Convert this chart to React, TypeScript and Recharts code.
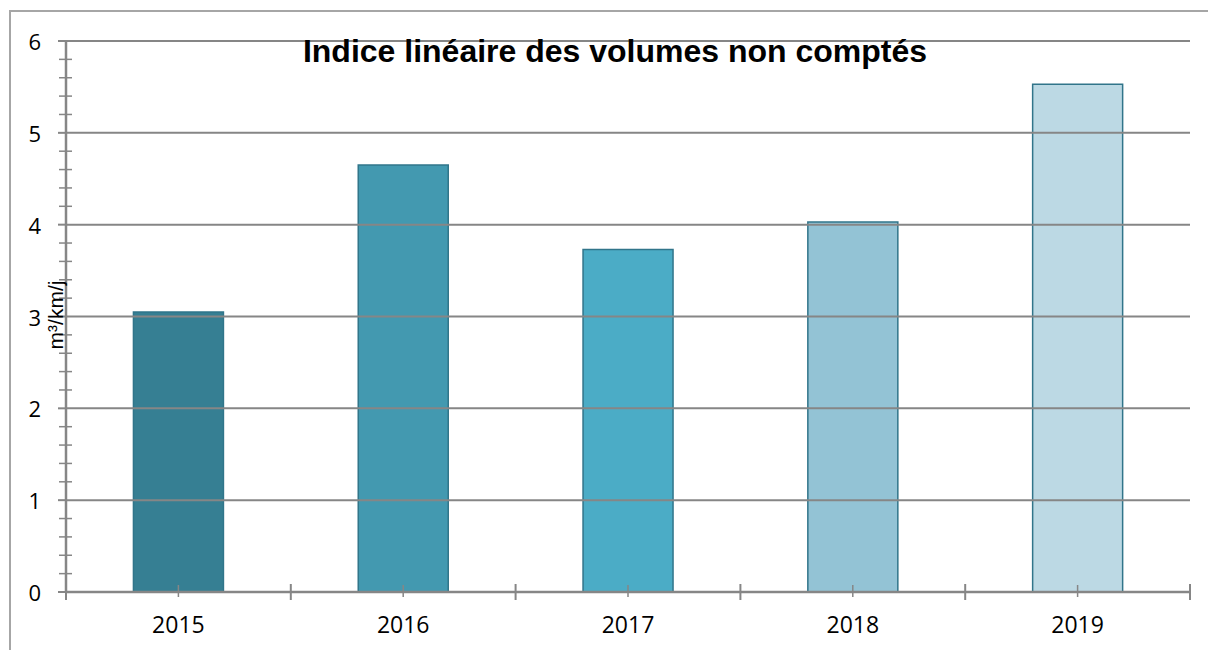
import { BarChart, Bar, XAxis, YAxis, Cell, ReferenceLine } from 'recharts'

const years = ['2015', '2016', '2017', '2018', '2019']
const volumes = [3.05, 4.65, 3.73, 4.03, 5.53]
const barColors = ['#367f93', '#4399b0', '#4bacc6', '#93c3d5', '#bcd9e4']
const majorTicks = [0, 1, 2, 3, 4, 5, 6]
const gridValues = [1, 2, 3, 4, 5, 6]
// minor ticks every 0.2
const allTicks = Array.from({ length: 31 }, (_, i) => Math.round(i * 2) / 10)

const data = years.map((year, i) => ({ year, value: volumes[i] }))

const W = 1208
const H = 650
const LEFT = 66
const RIGHT = 18
const TOP = 41
const XAXIS_H = 58
const BAND = (W - LEFT - RIGHT) / years.length
const AXIS_COLOR = '#868686'
const TICK_FONT = '"Open Sans", sans-serif'

function YTick(props: any) {
  const { x, y, payload } = props
  const ax = x + 25
  const v = payload.value
  const isMajor = majorTicks.includes(v)
  return (
    <g>
      {isMajor ? (
        <line x1={ax - 8} x2={ax} y1={y} y2={y} stroke={AXIS_COLOR} strokeWidth={2} />
      ) : (
        <line x1={ax - 7} x2={ax + 6} y1={y} y2={y} stroke={AXIS_COLOR} strokeWidth={1.5} />
      )}
      {isMajor && (
        <text x={x} y={y} textAnchor="end" dominantBaseline="central" fontSize={22} fontFamily={TICK_FONT} fill="#000">
          {v}
        </text>
      )}
    </g>
  )
}

function XTick(props: any) {
  const { x, y, payload, index } = props
  const last = index === years.length - 1
  return (
    <g>
      <line x1={x} x2={x} y1={y - 7} y2={y + 5} stroke={AXIS_COLOR} strokeWidth={1.5} />
      <line x1={x - BAND / 2} x2={x - BAND / 2} y1={y - 8} y2={y + 8} stroke={AXIS_COLOR} strokeWidth={2} />
      {last && <line x1={x + BAND / 2} x2={x + BAND / 2} y1={y - 8} y2={y + 8} stroke={AXIS_COLOR} strokeWidth={2} />}
      <text x={x} y={y + 41} textAnchor="middle" fontSize={23} fontFamily={TICK_FONT} fill="#000">
        {payload.value}
      </text>
    </g>
  )
}

export default function App() {
  return (
    <div style={{ position: 'absolute', left: 0, top: 0, width: W, height: H, overflow: 'hidden', background: '#fff' }}>
      <div
        style={{
          position: 'absolute',
          left: 9,
          top: 10,
          width: 1400,
          height: 1000,
          border: '2px solid #a6a6a6',
        }}
      />
      <div style={{ position: 'absolute', left: 0, top: 0 }}>
        <BarChart width={W} height={H} data={data} margin={{ top: TOP, right: RIGHT, left: 0, bottom: 0 }} barCategoryGap="30%">
          {gridValues.map((v) => (
            <ReferenceLine key={v} y={v} stroke={AXIS_COLOR} strokeWidth={2} />
          ))}
          <XAxis
            dataKey="year"
            height={XAXIS_H}
            axisLine={{ stroke: AXIS_COLOR, strokeWidth: 2.5 }}
            tickLine={false}
            tickSize={0}
            tickMargin={0}
            interval={0}
            tick={<XTick />}
          />
          <YAxis
            width={LEFT}
            domain={[0, 6]}
            ticks={allTicks}
            interval={0}
            axisLine={{ stroke: AXIS_COLOR, strokeWidth: 2.5 }}
            tickLine={false}
            tickSize={8}
            tickMargin={17}
            tick={<YTick />}
          />
          <Bar dataKey="value" stroke="#31758a" strokeWidth={1.5} isAnimationActive={false}>
            {data.map((d, i) => (
              <Cell key={d.year} fill={barColors[i]} />
            ))}
          </Bar>
        </BarChart>
      </div>
      <svg width={W} height={H} style={{ position: 'absolute', left: 0, top: 0, pointerEvents: 'none' }}>
        <text x={615} y={62} textAnchor="middle" fontSize={32} fontWeight="bold" fontFamily='"Liberation Sans", Arial, sans-serif' fill="#000">
          Indice linéaire des volumes non comptés
        </text>
        <text
          x={63}
          y={315}
          transform="rotate(-90, 63, 315)"
          textAnchor="middle"
          fontSize={21}
          fontFamily='"Liberation Sans", Arial, sans-serif'
          fill="#000"
        >
          m³/km/j
        </text>
      </svg>
    </div>
  )
}
